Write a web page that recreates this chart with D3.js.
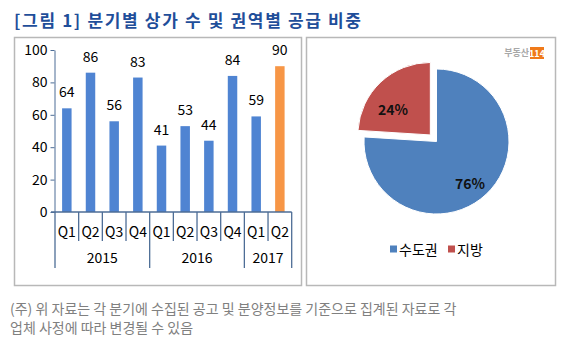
<!DOCTYPE html>
<html>
<head>
<meta charset="utf-8">
<script src="https://cdn.jsdelivr.net/npm/d3@7"></script>
<style>
  body { margin: 0; background: #fff; }
  svg { display: block; font-family: "Noto Sans CJK KR", sans-serif; }
</style>
</head>
<body>
<script>
const quarters = ["Q1", "Q2", "Q3", "Q4", "Q1", "Q2", "Q3", "Q4", "Q1", "Q2"];
const values = [64, 86, 56, 83, 41, 53, 44, 84, 59, 90];
const years = ["2015", "2016", "2017"];
const yearCounts = [4, 4, 2];
const yTicks = [0, 20, 40, 60, 80, 100];
const regions = ["수도권", "지방"];
const shares = [76, 24];

const W = 566, H = 351;
const svg = d3.select("body").append("svg")
  .attr("width", W).attr("height", H);

// title
svg.append("text")
  .attr("x", 14).attr("y", 27)
  .attr("font-size", 17).attr("font-weight", "bold")
  .attr("fill", "#1f4e9a")
  .attr("textLength", 347).attr("lengthAdjust", "spacing")
  .text("[그림 1] 분기별 상가 수 및 권역별 공급 비중");

// panels
svg.append("rect").attr("x", 14.5).attr("y", 37.5).attr("width", 287).attr("height", 248)
  .attr("fill", "none").attr("stroke", "#b8b8b8").attr("stroke-width", 1.5);
svg.append("rect").attr("x", 306.5).attr("y", 37.5).attr("width", 249).attr("height", 248)
  .attr("fill", "none").attr("stroke", "#b8b8b8").attr("stroke-width", 1.5);

// ---- bar chart ----
const idx = d3.range(values.length);
const x = d3.scaleBand().domain(idx).range([55, 291.7]).paddingInner(0.6).paddingOuter(0.3);
const y = d3.scaleLinear().domain([0, 100]).range([212, 50]);
const axisColor = "#4d6d96";

const yAxis = svg.append("g")
  .attr("transform", "translate(54.5,0)")
  .call(d3.axisLeft(y).tickValues(yTicks).tickSize(4).tickSizeOuter(0));
yAxis.select(".domain").attr("stroke", axisColor);
yAxis.selectAll(".tick line").attr("stroke", axisColor);
yAxis.selectAll(".tick text").attr("font-size", 14).attr("fill", "#000")
  .attr("font-family", "'Noto Sans CJK KR', sans-serif").attr("x", -7);

svg.selectAll(".bar").data(values).enter().append("rect")
  .attr("class", "bar")
  .attr("x", (d, i) => x(i))
  .attr("width", x.bandwidth())
  .attr("y", d => y(d))
  .attr("height", d => y(0) - y(d))
  .attr("fill", (d, i) => i === values.length - 1 ? "#f79646" : "#4f84d2");

svg.selectAll(".val").data(values).enter().append("text")
  .attr("x", (d, i) => x(i) + x.bandwidth() / 2)
  .attr("y", d => y(d) - 11)
  .attr("text-anchor", "middle")
  .attr("font-size", 14).attr("fill", "#000")
  .text(d => d);

// category axis
const step = x.step();
const x0 = x.range()[0];
svg.append("line").attr("x1", 51).attr("x2", x.range()[1]).attr("y1", y(0)).attr("y2", y(0))
  .attr("stroke", axisColor).attr("stroke-width", 1.3);

svg.selectAll(".qlab").data(quarters).enter().append("text")
  .attr("x", (d, i) => x0 + step * (i + 0.5))
  .attr("y", 237)
  .attr("text-anchor", "middle")
  .attr("font-size", 14).attr("fill", "#000")
  .text(d => d);

const yearStarts = yearCounts.map((c, i) => d3.sum(yearCounts.slice(0, i)));
const sepIdx = d3.range(quarters.length + 1);
svg.selectAll(".sep").data(sepIdx).enter().append("line")
  .attr("x1", i => x0 + step * i).attr("x2", i => x0 + step * i)
  .attr("y1", y(0))
  .attr("y2", i => (yearStarts.includes(i) || i === quarters.length) ? 268 : 241)
  .attr("stroke", axisColor).attr("stroke-width", 1.3);

svg.selectAll(".ylab").data(years).enter().append("text")
  .attr("x", (d, i) => x0 + step * (yearStarts[i] + yearCounts[i] / 2))
  .attr("y", 263)
  .attr("text-anchor", "middle")
  .attr("font-size", 14).attr("fill", "#000")
  .text(d => d);

// ---- pie chart ----
const cx = 436.5, cy = 141.5, r = 72.5;
const pieColors = ["#4f81bd", "#c0504d"];
const pie = d3.pie().sort(null)(shares);
const arc = d3.arc().innerRadius(0).outerRadius(r);
const g = svg.append("g").attr("transform", `translate(${cx},${cy})`);
const explode = [0, 9];
g.selectAll(".slice").data(pie).enter().append("path")
  .attr("transform", (d, i) => {
    const a = (d.startAngle + d.endAngle) / 2;
    return `translate(${Math.sin(a) * explode[i]},${-Math.cos(a) * explode[i]})`;
  })
  .attr("d", arc)
  .attr("fill", (d, i) => pieColors[i])
  .attr("stroke", "#fff").attr("stroke-width", 1);

const labelPos = [[33.5, 41], [-43.5, -33]];
g.selectAll(".plab").data(pie).enter().append("text")
  .attr("x", (d, i) => labelPos[i][0])
  .attr("y", (d, i) => labelPos[i][1])
  .attr("text-anchor", "middle").attr("dominant-baseline", "central")
  .attr("font-size", 14).attr("font-weight", "bold").attr("fill", "#111")
  .text(d => d.data + "%");

// legend
const legX = [390, 448];
const leg = svg.selectAll(".leg").data(regions).enter().append("g")
  .attr("transform", (d, i) => `translate(${legX[i]},249)`);
leg.append("rect").attr("x", 0).attr("y", -3.5).attr("width", 7).attr("height", 7)
  .attr("fill", (d, i) => pieColors[i]);
leg.append("text").attr("x", 9).attr("y", 0).attr("dominant-baseline", "central")
  .attr("font-size", 14).attr("fill", "#000").text(d => d);

// logo
svg.append("text").attr("x", 529).attr("y", 56).attr("text-anchor", "end")
  .attr("font-size", 9).attr("font-weight", "bold").attr("fill", "#a8a8a8").text("부동산");
svg.append("rect").attr("x", 530).attr("y", 47).attr("width", 14).attr("height", 12).attr("fill", "#f07a1a");
svg.append("text").attr("x", 537).attr("y", 56.5).attr("text-anchor", "middle")
  .attr("font-size", 9).attr("font-weight", "bold").attr("fill", "#fff").text("114");

// footnote
const notes = ["(주) 위 자료는 각 분기에 수집된 공고 및 분양정보를 기준으로 집계된 자료로 각",
  "업체 사정에 따라 변경될 수 있음"];
svg.selectAll(".note").data(notes).enter().append("text")
  .attr("x", 10).attr("y", (d, i) => 314 + i * 19)
  .attr("font-size", 14).attr("fill", "#808080")
  .text(d => d);
</script>
</body>
</html>
